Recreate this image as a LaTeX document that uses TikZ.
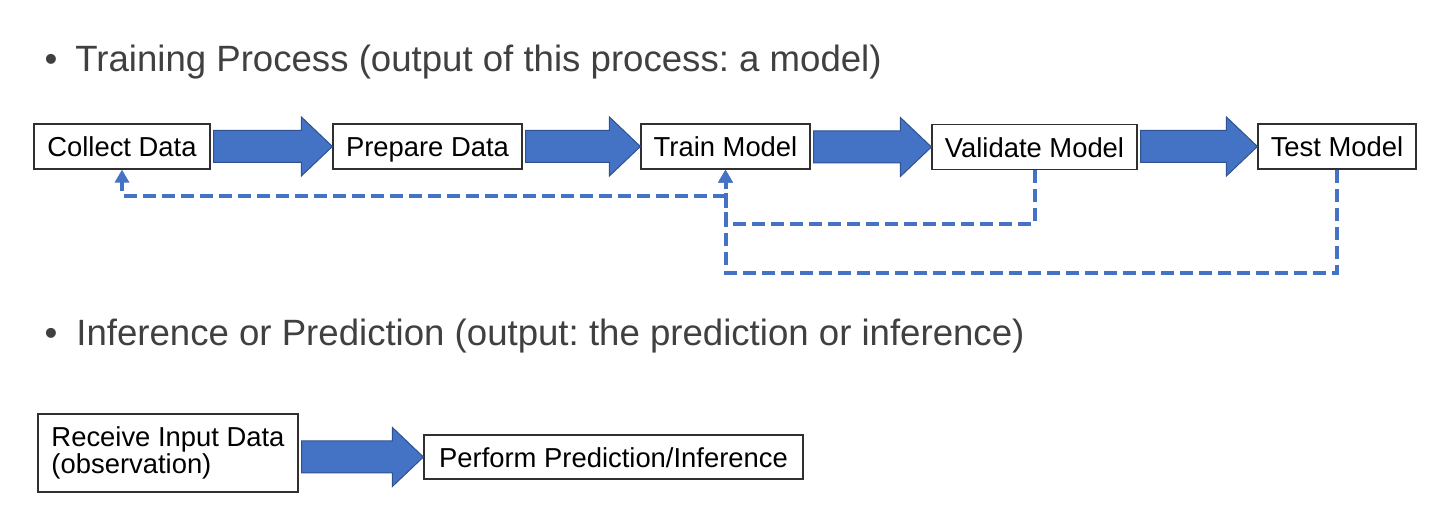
\documentclass[tikz,border=0pt]{standalone}
\usepackage{fontspec}
\setmainfont{Liberation Sans}
\usetikzlibrary{arrows.meta,calc}
\frenchspacing
\definecolor{titlegray}{HTML}{404040}
\definecolor{accent}{HTML}{4472C4}
\definecolor{accentdark}{HTML}{2F528F}
\definecolor{boxline}{HTML}{303030}
\tikzset{
  stagebox/.style={draw=boxline, line width=0.6pt, fill=white, inner sep=0pt,
    minimum height=22.5pt, font=\fontsize{13.7pt}{13.5pt}\selectfont, text=black},
  oneline/.style={text height=12pt, text depth=1.5pt},
  heading/.style={anchor=base west, inner sep=0pt, text=titlegray,
    font=\fontsize{18.3pt}{20pt}\selectfont},
  bulletmark/.style={anchor=base, inner sep=0pt, text=titlegray,
    font=\fontsize{18.3pt}{20pt}\selectfont},
  blockarrow/.style={fill=accent, draw=accentdark, line width=0.5pt, line join=miter},
  feedback/.style={draw=accent, line width=2pt, dash pattern=on 6.5pt off 3pt,
    -{Triangle[width=7pt,length=6.5pt]}}
}
% #1 source node, #2 target node
\newcommand{\myblockarrow}[2]{%
  \path[blockarrow]
    ($(#2.west -| #1.east)+(3,-16)$) -- ($(#2.west)+(-31,-16)$) --
    ($(#2.west)+(-31,-29.5)$) -- (#2.west) -- ($(#2.west)+(-31,29.5)$) --
    ($(#2.west)+(-31,16)$) -- ($(#2.west -| #1.east)+(3,16)$) -- cycle;}
\begin{document}
\begin{tikzpicture}[x=0.5pt,y=-0.5pt]
\useasboundingbox (0,0) rectangle (1446,506);

% headings
\node[bulletmark] (b1) at (51,72) {•};
\node[heading] (h1) at (75,72) {Training Process (output of this process: a model)};
\node[bulletmark] (b2) at (51,346) {•};
\node[heading] (h2) at (76,346) {Inference or Prediction (output: the prediction or inference)};

% training stages
\node[stagebox, oneline, minimum width=88pt] (collect) at (122,146.5) {Collect Data};
\node[stagebox, oneline, minimum width=94.5pt] (prepare) at (427.5,146.5) {Prepare Data};
\node[stagebox, oneline, minimum width=84.5pt] (train) at (725.5,146.5) {Train Model};
\node[stagebox, oneline, minimum width=102.5pt] (validate) at (1034.5,147) {Validate Model};
\node[stagebox, oneline, minimum width=79pt] (test) at (1337,146.5) {Test Model};

\myblockarrow{collect}{prepare}
\myblockarrow{prepare}{train}
\myblockarrow{train}{validate}
\myblockarrow{validate}{test}

% feedback loops
\draw[feedback] (validate.south) |- ($(train.south)+(0,54)$) -- (train.south);
\draw[feedback] (test.south) |- ($(train.south)+(0,103)$) -- (train.south);
\coordinate (fork) at ($(train.south)+(0,26)$);
\draw[feedback] (fork) -| (collect.south);

% inference stages
\node[stagebox, minimum width=130pt, minimum height=39pt, align=left, inner xsep=6pt]
  (receive) at (168,453) {Receive Input Data\\(observation)};
\node[stagebox, oneline, minimum width=189.5pt, minimum height=22pt] (perform) at (613.5,457)
  {Perform Prediction/Inference};
\myblockarrow{receive}{perform}
\end{tikzpicture}
\end{document}
